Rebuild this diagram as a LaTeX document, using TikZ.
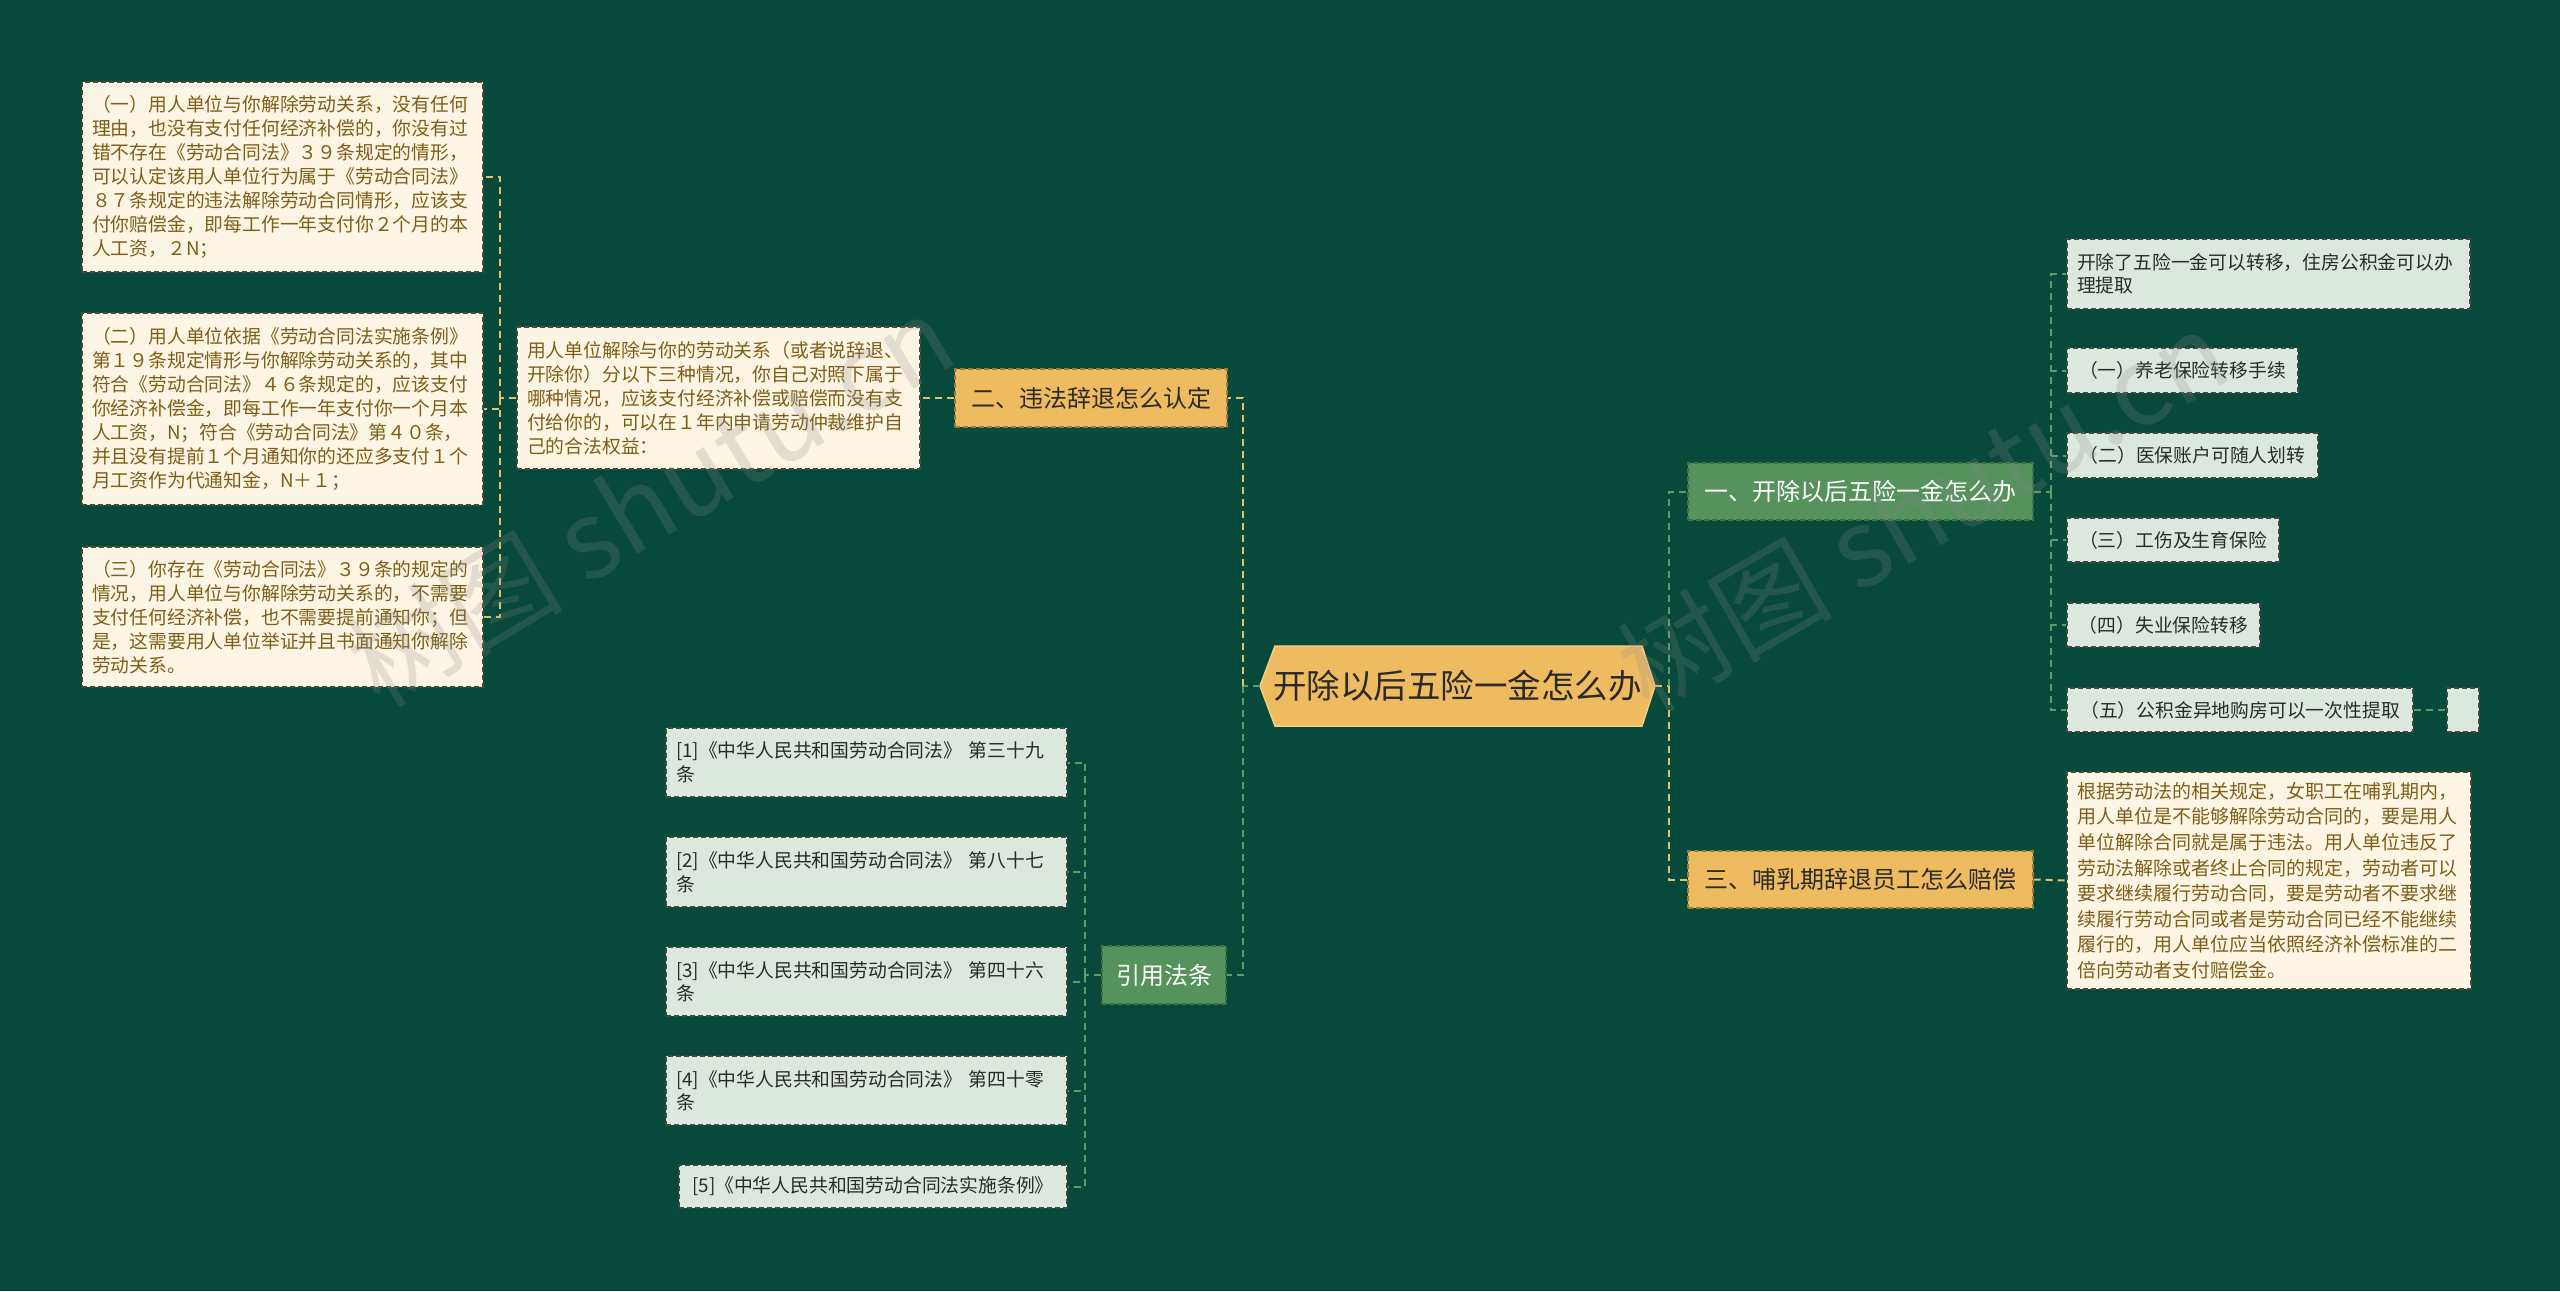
\documentclass[tikz,border=0pt]{standalone}
\usepackage{fontspec}
\setmainfont{Noto Sans CJK SC}
\definecolor{cBg}{HTML}{07493A}
\definecolor{cCream}{HTML}{FDF5E4}
\definecolor{cCreamLine}{HTML}{4A4A36}
\definecolor{cBrown}{HTML}{7E5E18}
\definecolor{cLight}{HTML}{DCE8DE}
\definecolor{cLightLine}{HTML}{3E4A40}
\definecolor{cDark}{HTML}{2A2A26}
\definecolor{cOrange}{HTML}{EFBB61}
\definecolor{cHexLine}{HTML}{F3CF80}
\definecolor{cOrangeLine}{HTML}{9A7A3A}
\definecolor{cGreen}{HTML}{55925C}
\definecolor{cGreenLine}{HTML}{3C7244}
\definecolor{cYLink}{HTML}{E3C16F}
\definecolor{cGLink}{HTML}{5C9E68}
\definecolor{cWm}{HTML}{8A8A8A}
\tikzset{
  basebox/.style={rectangle, inner xsep=10pt, inner ysep=0pt, align=left, line width=1.4pt, dash pattern=on 5pt off 3pt},
  creambox/.style={basebox, draw=cCreamLine, fill=cCream, text=cBrown, font=\fontsize{18.8}{24}\selectfont},
  lightbox/.style={basebox, draw=cLightLine, fill=cLight, text=cDark, font=\fontsize{18.8}{23.5}\selectfont},
  orangebox/.style={basebox, inner xsep=0pt, align=center, draw=cOrangeLine, fill=cOrange, text=cDark, font=\fontsize{24}{28}\selectfont},
  greenbox/.style={basebox, inner xsep=0pt, align=center, draw=cGreenLine, fill=cGreen, text=white, font=\fontsize{24}{28}\selectfont},
  ylink/.style={draw=cYLink, line width=2pt, dash pattern=on 7pt off 5pt},
  glink/.style={draw=cGLink, line width=2pt, dash pattern=on 7pt off 5pt},
  wmark/.style={text=cWm, opacity=0.22, font=\fontsize{108}{108}\selectfont, inner sep=0pt}
}
\begin{document}
\begin{tikzpicture}[x=1pt,y=-1pt]
\fill[cBg] (0,0) rectangle (2560,1291);
\useasboundingbox (0,0) rectangle (2560,1291);

% central hexagon
\filldraw[fill=cOrange, draw=cHexLine, line width=1.5pt] (1260,686) -- (1275,646) -- (1642,646) -- (1655,686) -- (1642,726) -- (1275,726) -- cycle;
\node[inner sep=0pt, minimum width=395pt, minimum height=80pt, text=cDark, font=\fontsize{33.5}{38}\selectfont] (ctr) at (1457.5,686) {开除以后五险一金怎么办};

% left branch
\node[orangebox, minimum width=272pt, minimum height=58pt] (b2) at (1091,398) {二、违法辞退怎么认定};
\node[creambox, text width=383pt, minimum height=142pt] (tb) at (718.5,398) {用人单位解除与你的劳动关系（或者说辞退、\\开除你）分以下三种情况，你自己对照下属于\\哪种情况，应该支付经济补偿或赔偿而没有支\\付给你的，可以在１年内申请劳动仲裁维护自\\己的合法权益：};
\node[creambox, text width=381pt, minimum height=190pt] (lb1) at (282.5,177) {（一）用人单位与你解除劳动关系，没有任何\\理由，也没有支付任何经济补偿的，你没有过\\错不存在《劳动合同法》３９条规定的情形，\\可以认定该用人单位行为属于《劳动合同法》\\８７条规定的违法解除劳动合同情形，应该支\\付你赔偿金，即每工作一年支付你２个月的本\\人工资，２N；};
\node[creambox, text width=381pt, minimum height=192pt] (lb2) at (282.5,409) {（二）用人单位依据《劳动合同法实施条例》\\第１９条规定情形与你解除劳动关系的，其中\\符合《劳动合同法》４６条规定的，应该支付\\你经济补偿金，即每工作一年支付你一个月本\\人工资，N；符合《劳动合同法》第４０条，\\并且没有提前１个月通知你的还应多支付１个\\月工资作为代通知金，N＋１；};
\node[creambox, text width=381pt, minimum height=140pt] (lb3) at (282.5,617) {（三）你存在《劳动合同法》３９条的规定的\\情况，用人单位与你解除劳动关系的，不需要\\支付任何经济补偿，也不需要提前通知你；但\\是，这需要用人单位举证并且书面通知你解除\\劳动关系。};

% references
\node[greenbox, minimum width=124pt, minimum height=58pt] (ref) at (1164,975) {引用法条};
\node[lightbox, text width=381pt, minimum height=69pt] (r1) at (866.5,762.5) {[1]《中华人民共和国劳动合同法》 第三十九\\条};
\node[lightbox, text width=381pt, minimum height=70pt] (r2) at (866.5,872) {[2]《中华人民共和国劳动合同法》 第八十七\\条};
\node[lightbox, text width=381pt, minimum height=69pt] (r3) at (866.5,981.5) {[3]《中华人民共和国劳动合同法》 第四十六\\条};
\node[lightbox, text width=381pt, minimum height=69pt] (r4) at (866.5,1090.5) {[4]《中华人民共和国劳动合同法》 第四十零\\条};
\node[lightbox, align=center, minimum width=388pt, minimum height=43pt] (r5) at (873,1186.5) {[5]《中华人民共和国劳动合同法实施条例》};

% right branch
\node[greenbox, minimum width=345pt, minimum height=57pt] (b1) at (1860.5,491.5) {一、开除以后五险一金怎么办};
\node[orangebox, minimum width=345pt, minimum height=57pt] (b3) at (1860.5,879.5) {三、哺乳期辞退员工怎么赔偿};
\node[lightbox, text width=383pt, minimum height=70pt] (c0) at (2268.5,274) {开除了五险一金可以转移，住房公积金可以办\\理提取};
\node[lightbox, align=center, minimum width=231pt, minimum height=45pt] (c1) at (2182.5,370.5) {（一）养老保险转移手续};
\node[lightbox, align=center, minimum width=251pt, minimum height=45pt] (c2) at (2192.5,455.5) {（二）医保账户可随人划转};
\node[lightbox, align=center, minimum width=212pt, minimum height=44pt] (c3) at (2173,540) {（三）工伤及生育保险};
\node[lightbox, align=center, minimum width=193pt, minimum height=44pt] (c4) at (2163.5,625) {（四）失业保险转移};
\node[lightbox, align=center, minimum width=346pt, minimum height=44pt] (c5) at (2240,710) {（五）公积金异地购房可以一次性提取};
\node[lightbox, inner xsep=0pt, minimum width=32pt, minimum height=44pt] (ce) at (2463,710) {};
\node[creambox, text width=384pt, minimum height=217pt, font=\fontsize{19}{25.6}\selectfont] (cb3) at (2269,880.5) {根据劳动法的相关规定，女职工在哺乳期内，\\用人单位是不能够解除劳动合同的，要是用人\\单位解除合同就是属于违法。用人单位违反了\\劳动法解除或者终止合同的规定，劳动者可以\\要求继续履行劳动合同，要是劳动者不要求继\\续履行劳动合同或者是劳动合同已经不能继续\\履行的，用人单位应当依照经济补偿标准的二\\倍向劳动者支付赔偿金。};

% connectors
\coordinate (cl) at (1243,686);
\coordinate (cr) at (1669,686);
\draw[glink] (ctr.west) -- (cl);
\draw[ylink] (cl) |- (b2.east);
\draw[glink] (cl) |- (ref.east);
\draw[ylink] (ctr.east) -- (cr);
\draw[glink] (cr) |- (b1.west);
\draw[ylink] (cr) |- (b3.west);

\draw[ylink] (b2.west) -- (tb.east);
\coordinate (sl) at (500,398);
\draw[ylink] (tb.west) -- (sl);
\draw[ylink] (sl) |- (lb1.east);
\draw[ylink] (sl) |- (lb2.east);
\draw[ylink] (sl) |- (lb3.east);

\coordinate (sr) at (1085,975);
\draw[glink] (ref.west) -- (sr);
\foreach \n in {r1,r2,r3,r4,r5} { \draw[glink] (sr) |- (\n.east); }

\coordinate (sc) at (2051,491.5);
\draw[glink] (b1.east) -- (sc);
\foreach \n in {c0,c1,c2,c3,c4,c5} { \draw[glink] (sc) |- (\n.west); }
\draw[glink] (c5.east) -- (ce.west);
\draw[ylink] (b3.east) -- (cb3.west);

% watermarks
\node[wmark, rotate=31] (wm1) at (650,500) {树图 shutu.cn};
\node[wmark, rotate=30] (wm2) at (1922,510) {树图 shutu.cn};
\end{tikzpicture}
\end{document}
